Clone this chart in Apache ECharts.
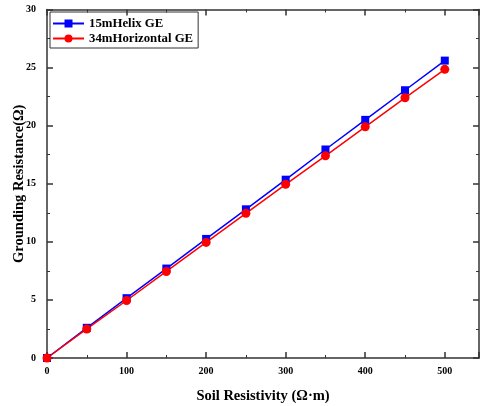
<!DOCTYPE html>
<html>
<head>
<meta charset="utf-8">
<script src="https://cdn.jsdelivr.net/npm/echarts@6/dist/echarts.min.js"></script>
<style>html,body{margin:0;padding:0;background:#fff}#c{width:481px;height:406px}</style>
</head>
<body>
<div id="c"></div>
<script>
var xValues = [0, 50, 100, 150, 200, 250, 300, 350, 400, 450, 500];
var helix = [0, 2.6, 5.15, 7.7, 10.25, 12.8, 15.35, 17.95, 20.5, 23.05, 25.6];
var horizontal = [0, 2.5, 4.95, 7.45, 9.95, 12.45, 14.95, 17.4, 19.9, 22.4, 24.85];
var seriesNames = ['15mHelix GE', '34mHorizontal GE'];
var xTitle = 'Soil Resistivity (\u03a9\u00b7m)';
var yTitle = 'Grounding Resistance(\u03a9)';

var FONT = "'Liberation Serif','Times New Roman',serif";
var AX = '#333';
function pairs(ys){ return xValues.map(function(x,i){return [x, ys[i]];}); }
function axisCommon(showLabel){
  return {
    axisLine:{show:true,onZero:false,lineStyle:{color:AX,width:1.5}},
    axisTick:{show:true,inside:true,length:6,lineStyle:{color:AX,width:1.5}},
    minorTick:{show:true,splitNumber:2,length:3,lineStyle:{color:AX,width:1}},
    splitLine:{show:false},
    axisLabel:{show:showLabel,color:'#000',fontFamily:FONT,fontWeight:'bold',fontSize:10}
  };
}
var xb = Object.assign(axisCommon(true),{type:'value',min:0,max:543,interval:100,position:'bottom',
  name:xTitle,nameLocation:'middle',nameGap:31,nameMoveOverlap:false,
  nameTextStyle:{color:'#000',fontFamily:FONT,fontWeight:'bold',fontSize:14.5}});
xb.axisLabel.margin=8; xb.axisLabel.showMaxLabel=false;
xb.axisLabel.formatter=function(v){return v%100===0?String(v):'';};
var xt = Object.assign(axisCommon(false),{type:'value',min:0,max:543,interval:100,position:'top'});
var yl = Object.assign(axisCommon(true),{type:'value',min:0,max:30,interval:5,position:'left',
  name:yTitle,nameLocation:'middle',nameGap:20,nameMoveOverlap:false,
  nameTextStyle:{color:'#000',fontFamily:FONT,fontWeight:'bold',fontSize:14.5}});
yl.axisLabel.margin=11;
var yr = Object.assign(axisCommon(false),{type:'value',min:0,max:30,interval:5,position:'right'});

var chart = echarts.init(document.getElementById('c'),null,{renderer:'canvas'});
chart.setOption({
  animation:false,
  backgroundColor:'#fff',
  grid:{left:47,right:2,top:9.5,bottom:48,containLabel:false,outerBoundsMode:'none'},
  legend:{
    data:seriesNames, orient:'vertical', left:50, top:12,
    borderColor:'#333', borderWidth:1, padding:[5,5,3,2], itemGap:2,
    itemWidth:31, itemHeight:10,
    textStyle:{color:'#000',fontFamily:FONT,fontWeight:'bold',fontSize:12.8}
  },
  xAxis:[xb, xt],
  yAxis:[yl, yr],
  series:[
    {name:seriesNames[0],type:'line',data:pairs(helix),xAxisIndex:0,yAxisIndex:0,
     symbol:'rect',symbolSize:8,lineStyle:{color:'#0000ff',width:1.5},itemStyle:{color:'#0000ff'}},
    {name:seriesNames[1],type:'line',data:pairs(horizontal),xAxisIndex:0,yAxisIndex:0,
     symbol:'circle',symbolSize:9,lineStyle:{color:'#ff0000',width:1.5},itemStyle:{color:'#ff0000'}}
  ]
});
</script>
</body>
</html>
